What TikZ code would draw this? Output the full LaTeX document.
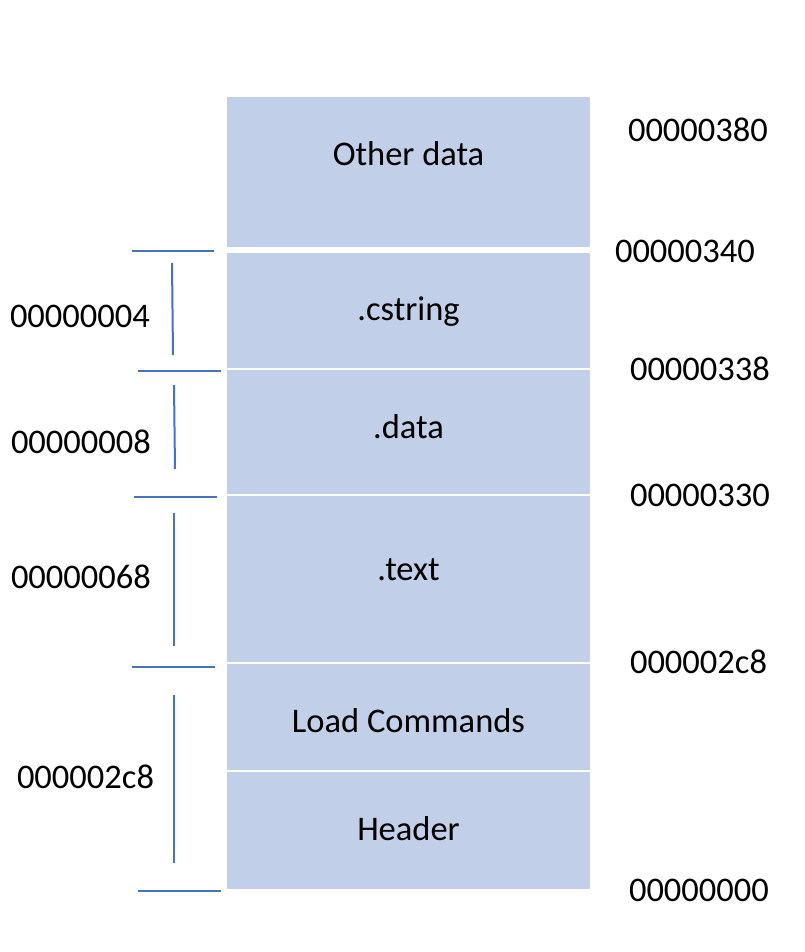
\documentclass[tikz,border=0pt]{standalone}
\usepackage{fontspec}
\setmainfont{Carlito}
\definecolor{boxfill}{HTML}{C1CFE8}
\definecolor{linecol}{HTML}{4472C4}
\begin{document}
\begin{tikzpicture}[x=1pt,y=-1pt,
  box/.style={fill=boxfill, draw=none, inner sep=0pt, outer sep=0pt, anchor=north west, minimum width=363pt},
  txt/.style={inner sep=0pt, outer sep=0pt, font=\fontsize{34.5}{40}\selectfont, text=black},
  mark line/.style={draw=linecol, line width=2pt}]
\useasboundingbox (0,0) rectangle (804,952);
\fill[white] (0,0) rectangle (804,952);
% boxes
\node[box, minimum height=150pt]   (other)  at (227,97)    {};
\node[box, minimum height=115pt]   (cstr)   at (227,253)   {};
\node[box, minimum height=123.5pt] (data)   at (227,370)   {};
\node[box, minimum height=166pt]   (textb)  at (227,496)   {};
\node[box, minimum height=105.5pt] (load)   at (227,664)   {};
\node[box, minimum height=116.5pt] (header) at (227,772)   {};
% box texts
\node[txt, anchor=base] (t-other)  at (408.5,166) {Other data};
\node[txt, anchor=base] (t-cstr)   at (408.5,320) {.cstring};
\node[txt, anchor=base] (t-data)   at (408.5,438) {.data};
\node[txt, anchor=base] (t-text)   at (408.5,580) {.text};
\node[txt, anchor=base] (t-load)   at (408.5,732) {Load Commands};
\node[txt, anchor=base] (t-header) at (408.5,840) {Header};
% right addresses
\node[txt, anchor=base west] (a380) at (628,142) {00000380};
\node[txt, anchor=base west] (a340) at (615,262) {00000340};
\node[txt, anchor=base west] (a338) at (630,380) {00000338};
\node[txt, anchor=base west] (a330) at (630,506.5) {00000330};
\node[txt, anchor=base west] (a2c8) at (630,673) {000002c8};
\node[txt, anchor=base west] (a000) at (629,901) {00000000};
% left sizes
\node[txt, anchor=base west] (s004) at (10,327) {00000004};
\node[txt, anchor=base west] (s008) at (11,453) {00000008};
\node[txt, anchor=base west] (s068) at (11,588) {00000068};
\node[txt, anchor=base west] (s2c8) at (17,788) {000002c8};
% marker coordinates
\coordinate (h1a) at (132,251); \coordinate (h1b) at (214,251);
\coordinate (v1a) at (172,263); \coordinate (v1b) at (173,355);
\coordinate (h2a) at (138,371); \coordinate (h2b) at (221,371);
\coordinate (v2a) at (174,385); \coordinate (v2b) at (175,469);
\coordinate (h3a) at (134,497); \coordinate (h3b) at (217,497);
\coordinate (v3a) at (174,513); \coordinate (v3b) at (174,646);
\coordinate (h4a) at (132,667); \coordinate (h4b) at (215,667);
\coordinate (v4a) at (174,695); \coordinate (v4b) at (174,863);
\coordinate (h5a) at (138,891); \coordinate (h5b) at (221,891);
\draw[mark line] (h1a) -- (h1b);
\draw[mark line] (v1a) -- (v1b);
\draw[mark line] (h2a) -- (h2b);
\draw[mark line] (v2a) -- (v2b);
\draw[mark line] (h3a) -- (h3b);
\draw[mark line] (v3a) -- (v3b);
\draw[mark line] (h4a) -- (h4b);
\draw[mark line] (v4a) -- (v4b);
\draw[mark line] (h5a) -- (h5b);
\end{tikzpicture}
\end{document}
